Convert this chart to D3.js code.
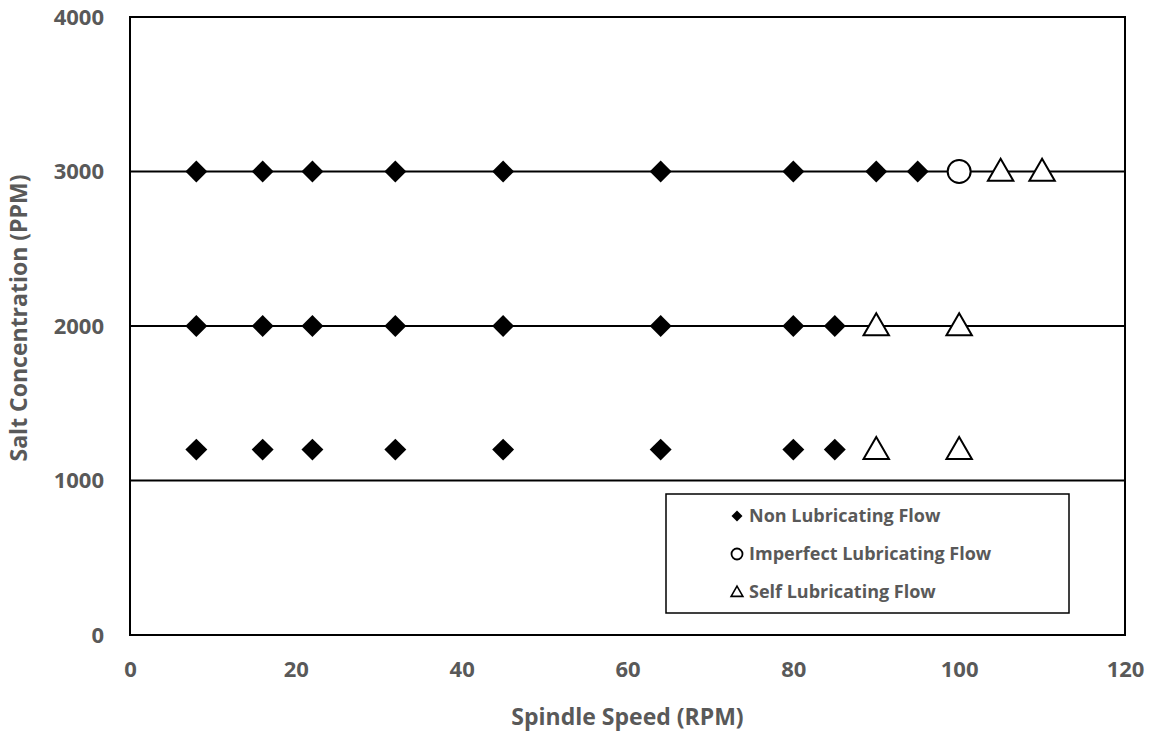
<!DOCTYPE html>
<html>
<head>
<meta charset="utf-8">
<script src="https://cdn.jsdelivr.net/npm/d3@7"></script>
<style>
  body { margin: 0; background: #fff; }
  text { font-family: "Open Sans", "Liberation Sans", sans-serif; font-weight: bold; fill: #595959; }
</style>
</head>
<body>
<div id="chart"></div>
<script>
// data
var nonSpeed = [8, 16, 22, 32, 45, 64, 80, 90, 95,
                8, 16, 22, 32, 45, 64, 80, 85,
                8, 16, 22, 32, 45, 64, 80, 85];
var nonSalt  = [3000, 3000, 3000, 3000, 3000, 3000, 3000, 3000, 3000,
                2000, 2000, 2000, 2000, 2000, 2000, 2000, 2000,
                1200, 1200, 1200, 1200, 1200, 1200, 1200, 1200];
var impSpeed = [100];
var impSalt  = [3000];
var selfSpeed = [105, 110, 90, 100, 90, 100];
var selfSalt  = [3000, 3000, 2000, 2000, 1200, 1200];
var xTicks = [0, 20, 40, 60, 80, 100, 120];
var yTicks = [0, 1000, 2000, 3000, 4000];
var legendLabels = ["Non Lubricating Flow", "Imperfect Lubricating Flow", "Self Lubricating Flow"];

var W = 1151, H = 731;
var margin = {top: 17, right: 26, bottom: 96, left: 130};
var width = W - margin.left - margin.right,
    height = H - margin.top - margin.bottom;

var svg = d3.select("#chart").append("svg")
    .attr("width", W).attr("height", H)
    .append("g")
    .attr("transform", "translate(" + margin.left + "," + margin.top + ")");

var x = d3.scaleLinear().domain([0, 120]).range([0, width]);
var y = d3.scaleLinear().domain([0, 4000]).range([height, 0]);

// gridlines
svg.selectAll(".grid").data(yTicks.filter(function(d) { return d > 0 && d < 4000; }))
  .enter().append("line")
  .attr("x1", 0).attr("x2", width)
  .attr("y1", function(d) { return y(d); }).attr("y2", function(d) { return y(d); })
  .attr("stroke", "#000").attr("stroke-width", 2);

// frame
svg.append("rect").attr("x", 0).attr("y", 0).attr("width", width).attr("height", height)
  .attr("fill", "none").attr("stroke", "#000").attr("stroke-width", 2);

// axes (labels only)
var xAxis = svg.append("g").attr("transform", "translate(0," + height + ")")
  .call(d3.axisBottom(x).tickValues(xTicks).tickSize(0).tickPadding(26).tickFormat(d3.format("d")));
xAxis.select(".domain").remove();
xAxis.selectAll("text").style("font-size", "22px").attr("fill", "#595959");

var yAxis = svg.append("g")
  .call(d3.axisLeft(y).tickValues(yTicks).tickSize(0).tickPadding(26).tickFormat(d3.format("d")));
yAxis.select(".domain").remove();
yAxis.selectAll("text").style("font-size", "22px").attr("fill", "#595959");

// axis titles
svg.append("text").attr("x", width / 2).attr("y", height + 90)
  .attr("text-anchor", "middle").style("font-size", "23px").text("Spindle Speed (RPM)");
svg.append("text").attr("transform", "translate(-103," + (height / 2 - 8) + ") rotate(-90)")
  .attr("text-anchor", "middle").style("font-size", "23px").text("Salt Concentration (PPM)");

var diamond = d3.symbol().type(d3.symbolSquare).size(240);
var triangle = d3.symbol().type(d3.symbolTriangle).size(280);

// non lubricating
svg.selectAll(".non").data(d3.range(nonSpeed.length)).enter().append("path")
  .attr("d", diamond)
  .attr("transform", function(i) { return "translate(" + x(nonSpeed[i]) + "," + y(nonSalt[i]) + ") rotate(45)"; })
  .attr("fill", "#000");

// imperfect
svg.selectAll(".imp").data(d3.range(impSpeed.length)).enter().append("circle")
  .attr("cx", function(i) { return x(impSpeed[i]); })
  .attr("cy", function(i) { return y(impSalt[i]); })
  .attr("r", 11.5).attr("fill", "#fff").attr("stroke", "#000").attr("stroke-width", 2);

// self lubricating
svg.selectAll(".self").data(d3.range(selfSpeed.length)).enter().append("path")
  .attr("d", triangle)
  .attr("transform", function(i) { return "translate(" + x(selfSpeed[i]) + "," + (y(selfSalt[i]) + 2) + ")"; })
  .attr("fill", "#fff").attr("stroke", "#000").attr("stroke-width", 2);

// legend
var lg = svg.append("g").attr("transform", "translate(" + (666 - margin.left) + "," + (494 - margin.top) + ")");
lg.append("rect").attr("width", 403).attr("height", 119)
  .attr("fill", "#fff").attr("stroke", "#000").attr("stroke-width", 1.5);
var rows = lg.selectAll(".row").data(legendLabels).enter().append("g")
  .attr("transform", function(d, i) { return "translate(71," + (22 + i * 38) + ")"; });
rows.filter(function(d, i) { return i === 0; }).append("path")
  .attr("d", d3.symbol().type(d3.symbolSquare).size(60)).attr("transform", "rotate(45)").attr("fill", "#000");
rows.filter(function(d, i) { return i === 1; }).append("circle")
  .attr("r", 5.5).attr("fill", "#fff").attr("stroke", "#000").attr("stroke-width", 1.8);
rows.filter(function(d, i) { return i === 2; }).append("path")
  .attr("d", d3.symbol().type(d3.symbolTriangle).size(60)).attr("transform", "translate(0,1)")
  .attr("fill", "#fff").attr("stroke", "#000").attr("stroke-width", 1.6);
rows.append("text").attr("x", 12).attr("dy", "0.35em").style("font-size", "18px")
  .text(function(d) { return d; });
</script>
</body>
</html>
